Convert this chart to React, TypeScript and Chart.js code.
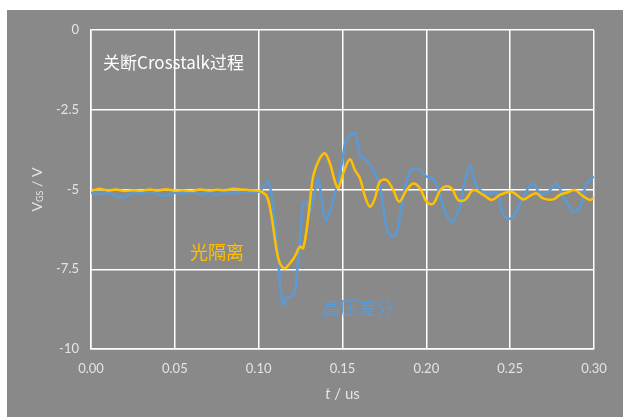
import React, { useEffect, useRef } from "react";
import { Chart, registerables } from "chart.js";

Chart.register(...registerables);

// 光隔离 (optical isolation probe)
const yellowT = [0, 0.005, 0.01, 0.015, 0.02, 0.025, 0.03, 0.035, 0.04, 0.045, 0.05, 0.055, 0.06, 0.065, 0.07, 0.075, 0.08, 0.085, 0.09, 0.095, 0.1,
  0.1047, 0.1077, 0.1107, 0.1127, 0.1156, 0.1187, 0.1216, 0.1246, 0.1266, 0.1296, 0.1325, 0.1365, 0.1395, 0.1425, 0.1455, 0.1475, 0.1504, 0.1544, 0.1574,
  0.1604, 0.1634, 0.1664, 0.1693, 0.1723, 0.1763, 0.1803, 0.1838, 0.1882, 0.1922, 0.1962, 0.2001, 0.204, 0.208, 0.211, 0.215, 0.219, 0.223, 0.228,
  0.234, 0.239, 0.2439, 0.2498, 0.2528, 0.2578, 0.2628, 0.2658, 0.2697, 0.2757, 0.2797, 0.2837, 0.2886, 0.2926, 0.2976, 0.3];
const yellowV = [-5.05, -4.98, -5.03, -5.0, -5.05, -5.02, -5.04, -5.0, -5.03, -4.99, -5.04, -5.02, -5.05, -5.0, -5.03, -5.01, -5.02, -4.98, -5.0, -5.02, -5.04,
  -5.2, -5.85, -6.9, -7.31, -7.47, -7.31, -7.1, -6.79, -6.84, -5.85, -4.6, -4.02, -3.87, -4.18, -4.75, -4.96, -4.49, -4.05, -4.39,
  -4.65, -5.22, -5.54, -5.28, -4.75, -4.7, -5.02, -5.38, -5.02, -4.81, -4.96, -5.38, -5.45, -5.05, -4.91, -4.96, -5.33, -5.33, -5.02,
  -5.17, -5.33, -5.17, -5.07, -5.12, -5.31, -5.17, -5.12, -5.28, -5.31, -5.17, -5.1, -5.02, -5.17, -5.33, -5.25];

// 高压差分 (high-voltage differential probe)
const blueT = [0, 0.005, 0.01, 0.015, 0.02, 0.025, 0.03, 0.035, 0.04, 0.045, 0.05, 0.055, 0.06, 0.065, 0.07, 0.075, 0.08, 0.085, 0.09, 0.095, 0.1008,
  0.1035, 0.1057, 0.108, 0.111, 0.1143, 0.1165, 0.1187, 0.121, 0.1236, 0.1266, 0.1286, 0.1305, 0.133, 0.1355, 0.1375, 0.14, 0.1425, 0.1465, 0.1495,
  0.1524, 0.1574, 0.1604, 0.1643, 0.1683, 0.1723, 0.1762, 0.1792, 0.1822, 0.1862, 0.1901, 0.1951, 0.2001, 0.204, 0.208, 0.21, 0.215, 0.22, 0.223,
  0.2263, 0.23, 0.236, 0.242, 0.246, 0.2508, 0.256, 0.26, 0.2638, 0.2678, 0.2728, 0.2774, 0.2817, 0.2877, 0.2917, 0.2956, 0.3];
const blueV = [-5.1, -5.15, -5.1, -5.2, -5.25, -5.1, -5.12, -5.08, -5.15, -5.2, -5.1, -5.12, -5.08, -5.15, -5.1, -5.18, -5.1, -5.12, -5.08, -5.1, -5.05,
  -4.85, -4.75, -5.3, -6.8, -8.62, -8.4, -8.36, -8.3, -7.21, -5.43, -5.4, -5.7, -5.2, -4.65, -5.3, -5.96, -5.7, -4.91, -4.2,
  -3.45, -3.24, -3.92, -4.08, -4.39, -4.91, -6.17, -6.46, -6.37, -5.22, -4.44, -4.34, -4.6, -4.65, -5.12, -5.54, -6.01, -5.54, -4.7,
  -4.28, -4.91, -5.12, -5.12, -5.8, -5.9, -5.43, -5.02, -4.81, -5.12, -5.07, -4.81, -5.22, -5.7, -5.54, -4.81, -4.6];

const xTicks = [0, 0.05, 0.1, 0.15, 0.2, 0.25, 0.3];
const yTicks = [0, -2.5, -5, -7.5, -10];

const titleText = "关断Crosstalk过程";
const yellowLabel = "光隔离";
const blueLabel = "高压差分";

const BG = "#898989";
const YELLOW = "#FFC000";
const BLUE = "#5B9BD5";
const TEXT = "#e4e4e4";

const textPlugin = {
  id: "texts",
  beforeDraw(chart: any) {
    const ctx = chart.ctx;
    ctx.save();
    ctx.fillStyle = BG;
    ctx.fillRect(0, 0, chart.width, chart.height);
    ctx.restore();
  },
  afterDraw(chart: any) {
    const ctx = chart.ctx;
    const xs = chart.scales.x;
    const ys = chart.scales.y;
    ctx.save();
    ctx.textBaseline = "middle";
    ctx.textAlign = "left";
    // annotations
    ctx.font = "17px 'Noto Sans CJK SC', sans-serif";
    ctx.fillStyle = "#ffffff";
    ctx.fillText(titleText, xs.getPixelForValue(0.0072), ys.getPixelForValue(-1.03));
    ctx.font = "18px 'Noto Sans CJK SC', sans-serif";
    ctx.fillStyle = YELLOW;
    ctx.fillText(yellowLabel, xs.getPixelForValue(0.059), ys.getPixelForValue(-6.96));
    ctx.fillStyle = BLUE;
    ctx.fillText(blueLabel, xs.getPixelForValue(0.1377), ys.getPixelForValue(-8.71));

    // x axis title: t / us
    ctx.fillStyle = TEXT;
    const cx = (chart.chartArea.left + chart.chartArea.right) / 2;
    const ty = chart.chartArea.bottom + 45;
    ctx.font = "italic 15px Lato, sans-serif";
    const w1 = ctx.measureText("t").width;
    ctx.font = "15px Lato, sans-serif";
    const w2 = ctx.measureText(" / us").width;
    let sx = cx - (w1 + w2) / 2;
    ctx.font = "italic 15px Lato, sans-serif";
    ctx.fillText("t", sx, ty);
    ctx.font = "15px Lato, sans-serif";
    ctx.fillText(" / us", sx + w1, ty);

    // y axis title: V_GS / V
    const yc = (chart.chartArea.top + chart.chartArea.bottom) / 2;
    ctx.translate(30, yc);
    ctx.rotate(-Math.PI / 2);
    ctx.font = "14px Lato, sans-serif";
    const a = ctx.measureText("V").width;
    ctx.font = "9px Lato, sans-serif";
    const b = ctx.measureText("GS").width;
    ctx.font = "14px Lato, sans-serif";
    const c = ctx.measureText(" / V").width;
    let px = -(a + b + c) / 2;
    ctx.font = "14px Lato, sans-serif";
    ctx.fillText("V", px, 0);
    ctx.font = "9px Lato, sans-serif";
    ctx.fillText("GS", px + a, 3);
    ctx.font = "14px Lato, sans-serif";
    ctx.fillText(" / V", px + a + b, 0);
    ctx.restore();
  },
};

export default function App() {
  const ref = useRef<HTMLCanvasElement | null>(null);
  useEffect(() => {
    if (!ref.current) return;
    const yellowData = yellowT.map((t, i) => ({ x: t, y: yellowV[i] }));
    const blueData = blueT.map((t, i) => ({ x: t, y: blueV[i] }));
    const chart = new Chart(ref.current, {
      type: "line",
      data: {
        datasets: [
          { label: yellowLabel, data: yellowData, borderColor: YELLOW, borderWidth: 2.5, pointRadius: 0, tension: 0.35, fill: false },
          { label: blueLabel, data: blueData, borderColor: BLUE, borderWidth: 2.5, pointRadius: 0, tension: 0.35, fill: false },
        ],
      },
      options: {
        responsive: false,
        animation: false,
        events: [],
        layout: { padding: { left: 0, right: 29, top: 20, bottom: 0 } },
        plugins: { legend: { display: false }, tooltip: { enabled: false }, title: { display: false } },
        scales: {
          x: {
            type: "linear",
            min: 0,
            max: 0.3,
            afterFit: (s: any) => { s.height = 68; },
            afterBuildTicks: (s: any) => { s.ticks = xTicks.map((v) => ({ value: v })); },
            ticks: {
              color: TEXT,
              font: { family: "Lato, sans-serif", size: 13 },
              padding: 12,
              maxRotation: 0,
              callback: (v: any) => Number(v).toFixed(2),
            },
            grid: { color: "#ffffff", lineWidth: 1.5, drawTicks: false },
            border: { color: "#ffffff", width: 1.5 },
          },
          y: {
            type: "linear",
            min: -10,
            max: 0,
            afterFit: (s: any) => { s.width = 84; },
            afterBuildTicks: (s: any) => { s.ticks = yTicks.map((v) => ({ value: v })); },
            ticks: {
              color: TEXT,
              font: { family: "Lato, sans-serif", size: 13 },
              padding: 12,
              callback: (v: any) => String(v),
            },
            grid: { color: "#ffffff", lineWidth: 1.5, drawTicks: false },
            border: { color: "#ffffff", width: 1.5 },
          },
        },
      },
      plugins: [textPlugin],
    });
    return () => chart.destroy();
  }, []);
  return (
    <div style={{ position: "absolute", left: 7, top: 10, width: 616, height: 407 }}>
      <canvas ref={ref} width={616} height={407} style={{ display: "block" }} />
    </div>
  );
}
